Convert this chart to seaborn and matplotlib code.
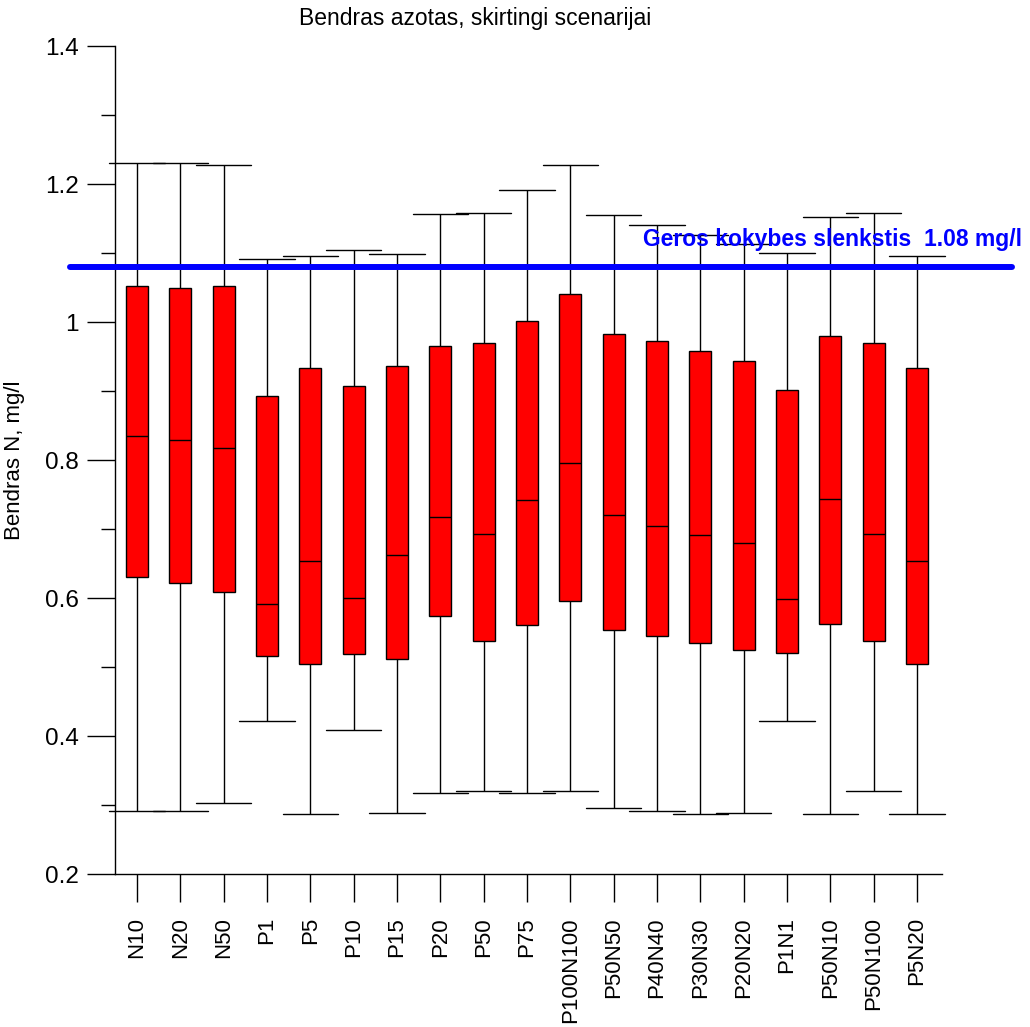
import numpy as np
import pandas as pd
import matplotlib
matplotlib.use("Agg")
import matplotlib.pyplot as plt
from matplotlib.ticker import FixedLocator, FuncFormatter
import seaborn as sns

# Scenario names
scenarios = ["N10", "N20", "N50", "P1", "P5", "P10", "P15", "P20", "P50", "P75",
             "P100N100", "P50N50", "P40N40", "P30N30", "P20N20", "P1N1",
             "P50N10", "P50N100", "P5N20"]

# Five-number summaries of total nitrogen (mg/l) per scenario
n_min = [0.292, 0.291, 0.303, 0.422, 0.287, 0.409, 0.288, 0.318, 0.321, 0.318,
         0.321, 0.296, 0.292, 0.287, 0.288, 0.422, 0.287, 0.321, 0.287]
n_q1 = [0.630, 0.622, 0.609, 0.516, 0.504, 0.519, 0.511, 0.574, 0.537, 0.561,
        0.595, 0.553, 0.545, 0.535, 0.524, 0.521, 0.562, 0.537, 0.504]
n_med = [0.835, 0.829, 0.818, 0.591, 0.653, 0.600, 0.662, 0.717, 0.693, 0.742,
         0.795, 0.720, 0.705, 0.692, 0.679, 0.598, 0.743, 0.693, 0.653]
n_q3 = [1.052, 1.049, 1.052, 0.893, 0.934, 0.907, 0.936, 0.965, 0.969, 1.001,
        1.040, 0.983, 0.973, 0.958, 0.944, 0.902, 0.980, 0.969, 0.934]
n_max = [1.231, 1.230, 1.228, 1.092, 1.095, 1.104, 1.099, 1.156, 1.158, 1.191,
         1.228, 1.155, 1.140, 1.126, 1.113, 1.100, 1.152, 1.158, 1.095]

# Good-quality threshold
threshold = 1.08
threshold_label = "Geros kokybes slenkstis  1.08 mg/l"

title = "Bendras azotas, skirtingi scenarijai"
ylabel = "Bendras N, mg/l"
y_major = [0.2, 0.4, 0.6, 0.8, 1.0, 1.2, 1.4]
y_minor = [0.3, 0.5, 0.7, 0.9, 1.1, 1.3]

# Long-form table: the five summary values of each scenario
rows = []
for i, name in enumerate(scenarios):
    for v in (n_min[i], n_q1[i], n_med[i], n_q3[i], n_max[i]):
        rows.append({"scenarijus": name, "N": v})
df = pd.DataFrame(rows)

sns.set_theme(style="ticks")
plt.rcParams["font.family"] = ["Liberation Sans", "DejaVu Sans"]
plt.rcParams.update({"text.color": "black", "axes.labelcolor": "black",
                     "xtick.color": "black", "ytick.color": "black",
                     "axes.edgecolor": "black"})

fig = plt.figure(figsize=(10.30, 10.27), dpi=100)
ax = fig.add_axes([115 / 1030, 1 - 874 / 1027, 827 / 1030, 828 / 1027])

box_w = 0.508
line_kw = dict(color="black", linewidth=1.0)
sns.boxplot(data=df, x="scenarijus", y="N", order=scenarios, ax=ax,
            whis=(0, 100), width=box_w, showfliers=False,
            boxprops=dict(facecolor="#ff0000", edgecolor="black", linewidth=1.0),
            medianprops=line_kw, whiskerprops=line_kw, capprops=line_kw)

# Widen whisker caps
cap_half = 0.635
for ln in ax.lines:
    xd = np.asarray(ln.get_xdata(), dtype=float)
    yd = np.asarray(ln.get_ydata(), dtype=float)
    if len(xd) == 2 and yd[0] == yd[1]:
        span = abs(xd[1] - xd[0])
        if 0 < span < box_w * 0.9:
            c = xd.mean()
            ln.set_xdata([c - cap_half, c + cap_half])
            ln.set_clip_on(False)

ax.set_xlim(-0.508, 18.577)
ax.set_ylim(0.2, 1.4)

# Threshold line and its label
ax.axhline(threshold, xmin=-0.054, xmax=1.085, color="#0000ff", linewidth=4.3,
           solid_capstyle="round", clip_on=False, zorder=5)
ax.annotate(threshold_label, xy=(0.638, threshold),
            xycoords=("axes fraction", "data"), xytext=(0, 20),
            textcoords="offset points", va="center", ha="left",
            color="#0000ff", fontsize=16.5, fontweight="bold",
            annotation_clip=False, zorder=6)

# Axes styling
for side in ("top", "right"):
    ax.spines[side].set_visible(False)
for side in ("left", "bottom"):
    ax.spines[side].set_color("black")
    ax.spines[side].set_linewidth(1.0)

ax.yaxis.set_major_locator(FixedLocator(y_major))
ax.yaxis.set_minor_locator(FixedLocator(y_minor))
ax.yaxis.set_major_formatter(FuncFormatter(lambda v, p: f"{v:g}"))
ax.tick_params(axis="y", which="major", length=20, width=1.0, color="black",
               labelsize=17.5, pad=6, direction="out", labelcolor="black")
ax.tick_params(axis="y", which="minor", length=10, width=1.0, color="black",
               direction="out")
ax.tick_params(axis="x", which="major", length=20, width=1.0, color="black",
               labelsize=16, pad=11, direction="out", labelrotation=90,
               labelcolor="black")

ax.set_xlabel("")
ax.set_ylabel(ylabel, fontsize=16, color="black")
ax.yaxis.set_label_coords(-0.109, 0.5)

fig.text(475 / 1030, 1 - 18 / 1027, title, ha="center", va="center",
         fontsize=16.5, color="black")

fig.savefig("out.png", dpi=100, facecolor="white")
